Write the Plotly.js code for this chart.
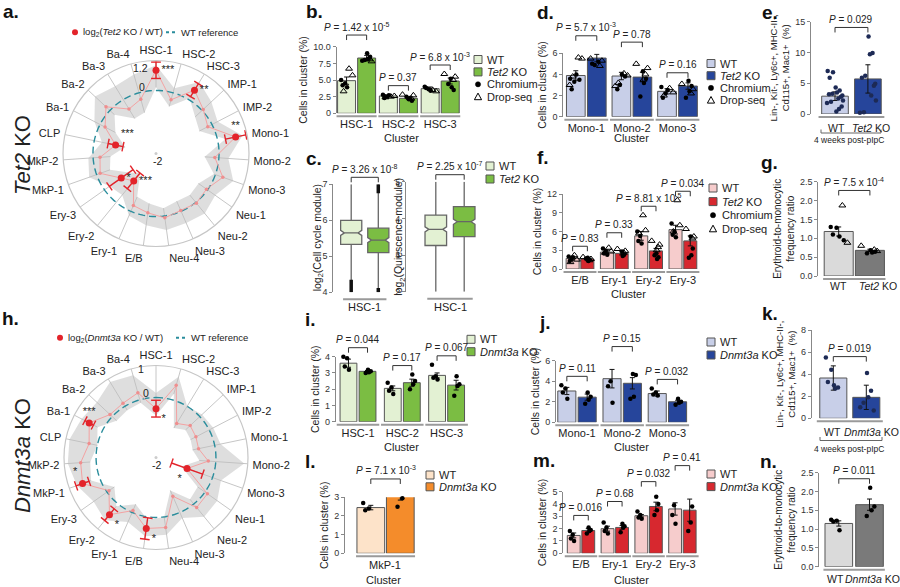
<!DOCTYPE html>
<html><head><meta charset="utf-8">
<script src="https://cdn.plot.ly/plotly-3.0.1.min.js"></script>
<style>html,body{margin:0;padding:0;background:#fff}#chart{width:900px;height:587px}</style>
</head><body><div id="chart"></div>
<script>
// ================= DATA =================
const polarCats=['HSC-1','HSC-2','HSC-3','IMP-1','IMP-2','Mono-1','Mono-2','Mono-3','Neu-1','Neu-2','Neu-3','Neu-4','E/B','Ery-1','Ery-2','Ery-3','MkP-1','MkP-2','CLP','Ba-1','Ba-2','Ba-3','Ba-4'];
const a_val=[0.64,-0.23,0.35,0.05,-0.15,0.58,-0.13,0.25,-0.04,0.03,-0.03,0.06,-0.1,-0.2,-0.88,-0.65,-0.12,-0.22,-0.69,-0.18,0.17,-0.35,-0.21];
const a_hi =[0.8,0.15,0.65,0.4,0.2,0.8,0.3,0.6,0.3,0.45,0.4,0.45,0.3,0.15,-0.3,-0.2,0.25,0.15,-0.25,0.2,0.65,0.5,0.6];
const a_lo =[0.1,-0.45,0.05,-0.3,-0.45,0.25,-0.45,-0.05,-0.35,-0.3,-0.35,-0.25,-0.4,-0.5,-1.2,-0.95,-0.45,-0.55,-1.0,-0.55,-0.2,-0.7,-0.65];
const a_err=[0.26,null,0.24,null,null,0.33,null,null,null,null,null,null,null,null,0.32,0.46,null,null,0.24,null,null,null,null];
const a_sig=['***','','**','','','**','','','','','','','','','***','*','','','***','','','',''];
const h_val=[-0.37,0.5,-0.67,-0.44,-0.5,-0.55,-0.25,-0.9,0.1,0.15,-0.59,0.36,0.39,-0.07,0.46,-0.08,0.6,0.52,0.28,0.51,0.1,0.12,0.24];
const h_hi =[0.15,0.8,0.0,0.1,0.15,0.2,0.95,0.3,0.5,0.55,0.2,0.6,0.65,0.35,0.7,0.55,0.8,0.95,0.95,0.8,0.7,0.95,0.85];
const h_lo =[-0.6,0.2,-0.85,-0.65,-0.7,-0.75,-0.55,-1.1,-0.3,-0.2,-0.8,0.0,0.1,-0.3,0.1,-0.3,0.3,0.2,0.0,0.2,-0.2,-0.15,-0.1];
const h_err=[0.28,null,null,null,null,null,null,0.55,null,null,null,null,0.36,null,0.25,null,0.23,null,null,0.16,null,null,null];
const h_sig=['*','','','','','','','*','','','','','*','','*','','*','','','***','','',''];

const b_cats=['HSC-1','HSC-2','HSC-3'];
const b_wt=[4.9,2.6,3.7], b_ko=[8.3,2.25,4.85];
const b_wtErr=[0.55,0.15,0.25], b_koErr=[0.4,0.2,0.45];
const b_wtChrom=[[5.0,4.5,4.2,3.9],[2.8,2.5,2.3,2.7],[4.0,3.6,3.8,3.4]];
const b_wtDrop=[[6.7,5.7,3.3],[2.5,2.6,2.4],[3.5,3.3]];
const b_koChrom=[[9.0,8.5,8.2,8.0,7.9],[2.1,1.9,2.3,2.5],[5.2,3.5,3.9,4.4]];
const b_koDrop=[[10.4,7.8,8.1],[2.8,2.7,2.2],[5.9,5.5,5.0]];
const b_p=['1.42 x 10<sup>-5</sup>','0.37','6.8 x 10<sup>-3</sup>'];

const c1_q1=[5.33,5.1], c1_med=[5.65,5.45], c1_q3=[6.0,5.78], c1_lo=[4.0,4.0], c1_hi=[7.0,7.0];
const c1_outWT=[4.0,4.35], c1_outKOtop=[6.75,7.0], c1_outKObot=[4.0,4.12];
const c2_q1=[3.26,3.5], c2_med=[3.7,3.91], c2_q3=[4.09,4.32], c2_lo=[2.0,2.0], c2_hi=[5.0,5.0];
const c_p=['3.26 x 10<sup>-8</sup>','2.25 x 10<sup>-7</sup>'];

const d_cats=['Mono-1','Mono-2','Mono-3'];
const d_wt=[3.9,3.85,2.4], d_ko=[5.55,3.75,2.9];
const d_wtErr=[0.45,0.35,0.25], d_koErr=[0.35,0.45,0.3];
const d_wtChrom=[[3.6,3.3,2.6,4.0,3.5],[6.3,3.0,2.6,4.0,3.8],[2.8,2.2,1.8,2.5]];
const d_wtDrop=[[5.6,5.5,3.8,3.0],[4.1,3.9,3.2,2.9],[2.7,2.3,2.0]];
const d_koChrom=[[6.9,6.6,5.2,4.9,5.0],[4.3,3.6,3.2,1.9],[3.4,2.9,2.4,1.8]];
const d_koDrop=[[5.5,5.3,4.8],[5.0,4.6,4.0,3.5],[3.1,2.6,2.2]];
const d_p=['5.7 x 10<sup>-3</sup>','0.78','0.16'];

const e_vals=[2.9,5.7], e_err=[0.7,2.3];
const e_wtPts=[7.0,6.8,5.9,4.3,3.8,3.5,3.3,3.2,3.0,2.8,2.5,2.2,2.0,1.8,1.2,0.8,0.4];
const e_koPts=[12.6,9.9,9.7,6.2,5.9,4.9,4.6,3.0,2.2,0.3,0.2];
const e_p='0.029';

const f_cats=['E/B','Ery-1','Ery-2','Ery-3'];
const f_wt=[1.7,2.7,5.3,6.3], f_ko=[1.6,2.5,2.9,4.5];
const f_wtErr=[0.25,0.3,0.7,0.7], f_koErr=[0.2,0.25,0.4,0.8];
const f_wtChrom=[[2.0,1.6,1.3,1.9],[3.3,2.9,2.5,2.3],[6.0,5.3,4.5,4.1],[7.3,6.0,5.5,5.1]];
const f_wtDrop=[[2.2,1.5,1.1],[3.4,2.8,2.6],[8.6,6.2,5.7],[11.0,7.0,6.0]];
const f_koChrom=[[1.8,1.5,1.3,1.7],[2.8,2.3,2.1],[2.5,1.9,1.6,2.2],[5.2,3.3,2.2,1.8]];
const f_koDrop=[[1.9,1.6,1.4],[3.2,2.9,2.6],[4.5,3.9,3.5,3.0],[6.4,5.2,4.9]];
const f_p=['0.83','0.33','8.81 x 10<sup>-5</sup>','0.034'];

const g_vals=[1.18,0.68], g_err=[0.12,0.03];
const g_wtChrom=[1.3,1.28,1.1,1.05,0.95], g_wtDrop=[1.87,0.88];
const g_koChrom=[0.68,0.64,0.62,0.6], g_koDrop=[0.8,0.66,0.7];
const g_p='7.5 x 10<sup>-4</sup>';

const i_cats=['HSC-1','HSC-2','HSC-3'];
const i_wt=[3.6,2.05,2.85], i_ko=[3.1,2.4,2.25];
const i_wtErr=[0.25,0.15,0.15], i_koErr=[0.05,0.22,0.3];
const i_wtPts=[[4.0,3.9,3.4,3.2],[2.4,2.1,1.9,1.7],[3.5,2.8,2.7,2.6]];
const i_koPts=[[3.2,3.1,3.05,3.0],[2.9,2.5,2.3,2.0],[2.8,2.3,2.2,1.6]];
const i_p=['0.044','0.17','0.067'];

const j_cats=['Mono-1','Mono-2','Mono-3'];
const j_wt=[3.05,4.25,2.8], j_ko=[2.45,3.8,2.0];
const j_wtErr=[0.35,0.9,0.25], j_koErr=[0.3,0.55,0.15];
const j_wtPts=[[3.6,3.3,2.9,2.3],[6.5,4.0,3.5,1.9],[3.3,2.9,2.7,2.6]];
const j_koPts=[[2.9,2.5,2.2,1.8],[4.7,4.6,2.5,2.3],[2.3,2.0,1.9,1.7]];
const j_p=['0.11','0.15','0.032'];

const k_vals=[3.65,1.9], k_err=[1.1,1.1];
const k_wtPts=[5.5,4.4,3.3,3.0,2.8,2.7], k_koPts=[4.1,2.5,1.9,1.4,1.0,0.7];
const k_p='0.019';

const l_vals=[2.45,3.1], l_err=[0.12,0.25];
const l_wtPts=[2.7,2.4,2.3], l_koPts=[3.5,3.3,2.95,2.5];
const l_p='7.1 x 10<sup>-3</sup>';

const m_cats=['E/B','Ery-1','Ery-2','Ery-3'];
const m_wt=[1.45,2.0,3.05,3.6], m_ko=[1.85,2.1,3.8,3.5];
const m_wtErr=[0.2,0.2,0.1,0.5], m_koErr=[0.15,0.15,0.35,0.9];
const m_wtPts=[[1.8,1.5,1.2,1.0],[2.5,2.1,1.8,1.6],[3.4,3.1,2.9,2.8],[5.2,3.9,3.1,2.4]];
const m_koPts=[[2.1,1.9,1.8,1.6],[2.4,2.2,2.1,1.7],[4.6,4.0,3.5,3.1],[5.9,3.8,2.5,1.8]];
const m_p=['0.016','0.68','0.032','0.41'];

const n_vals=[1.15,1.65], n_err=[0.07,0.15];
const n_wtPts=[1.25,1.22,1.2,0.97], n_koPts=[2.1,1.6,1.5,1.35];
const n_p='0.011';

// ================= BUILD =================
const FONT='Arial, "Liberation Sans", Helvetica, sans-serif';
const W=900,H=587;
const PX=x=>x/W, PY=y=>1-y/H;
const traces=[],shapes=[],annotations=[];
const layout={width:W,height:H,margin:{l:0,r:0,t:0,b:0,autoexpand:false},paper_bgcolor:'#fff',plot_bgcolor:'rgba(0,0,0,0)',
  showlegend:false,font:{family:FONT,color:'#222'},barmode:'overlay',shapes,annotations};
let axCount=0;
function nextAxes(){axCount++;const s=axCount===1?'':String(axCount);return {xk:'xaxis'+s,yk:'yaxis'+s,x:'x'+s,y:'y'+s};}
function txt(x,y,text,o={}){annotations.push(Object.assign({xref:'paper',yref:'paper',x:PX(x),y:PY(y),text,showarrow:false,
  font:{size:o.size||10.5,color:o.color||'#222',family:FONT},xanchor:o.xa||'center',yanchor:o.ya||'middle'},o.extra||{}));}
const JIT=[-0.55,0.45,-0.15,0.25,-0.4,0.6,0.05,-0.3,0.35,-0.6,0.15,0.5,-0.2,0.3,-0.45,0.1,0.55];
const PSIZE=10;
function bracketPx(x1,x2,yb,label){
  const yt=yb-5;
  shapes.push({type:'path',xref:'paper',yref:'paper',path:`M ${PX(x1)} ${PY(yb)} L ${PX(x1)} ${PY(yt)} L ${PX(x2)} ${PY(yt)} L ${PX(x2)} ${PY(yb)}`,line:{color:'#333',width:1}});
  txt((x1+x2)/2,yt-0.5,'<i>P</i> = '+label,{ya:'bottom',size:PSIZE});
}
function legendBox(x,y,items,dy){items.forEach((it,k)=>{const yy=y+k*dy;
  if(it.kind==='sq'){shapes.push({type:'rect',xref:'paper',yref:'paper',x0:PX(x-4),x1:PX(x+4),y0:PY(yy+4),y1:PY(yy-4),fillcolor:it.fill,line:{color:'#555',width:1}});}
  else if(it.kind==='dot'){shapes.push({type:'circle',xref:'paper',yref:'paper',x0:PX(x-2.6),x1:PX(x+2.6),y0:PY(yy+2.6),y1:PY(yy-2.6),fillcolor:'#000',line:{color:'#000',width:0.5}});}
  else {shapes.push({type:'path',xref:'paper',yref:'paper',path:`M ${PX(x-3.6)} ${PY(yy+3)} L ${PX(x+3.6)} ${PY(yy+3)} L ${PX(x)} ${PY(yy-3.6)} Z`,line:{color:'#000',width:1}});}
  txt(x+7,yy,it.text,{xa:'left',size:11});});}

function yAxisCfg(c,ax){return {domain:[PY(c.y0),PY(c.yTop)],range:c.range,anchor:ax.x,showline:true,linecolor:'#888',linewidth:1,
  ticks:'outside',ticklen:3,tickcolor:'#888',tickmode:'array',tickvals:c.ticks,ticktext:c.tickText||c.ticks.map(String),
  tickfont:{size:9,color:'#333'},showgrid:false,zeroline:false,fixedrange:true,
  title:{text:c.ytitle||'',font:{size:c.ytSize||10.5,color:'#222'},standoff:c.yStand??3}};}

function ptsTrace(ax,xs,ys,kind,color){
  return {type:'scatter',mode:'markers',xaxis:ax.x,yaxis:ax.y,x:xs,y:ys,cliponaxis:false,hoverinfo:'skip',
    marker:kind==='tri'?{symbol:'triangle-up-open',size:6,color:'#000',line:{width:1,color:'#000'}}:{symbol:'circle',size:4.5,color:color||'#000'}};}
const padOf=(p,i)=>Array.isArray(p)?p[i]:(p??4);

function groupedPanel(c){
  const ax=nextAxes(); const n=c.cats.length;
  const r0=-(c.firstCenter-c.axisX)/c.spacing, r1=n-1+(c.rightPad??0.5);
  const xR=c.axisX+(r1-r0)*c.spacing;
  const upp=(c.range[1]-c.range[0])/(c.y0-c.yTop);
  const xp=xd=>c.axisX+(xd-r0)*c.spacing, yp=v=>c.y0-(v-c.range[0])/upp;
  layout[ax.xk]={domain:[PX(c.axisX),PX(xR)],range:[r0,r1],anchor:ax.y,showline:false,zeroline:false,showgrid:false,
    tickmode:'array',tickvals:c.cats.map((_,i)=>i),ticktext:c.cats,ticks:'',tickangle:0,tickfont:{size:11,color:'#222'},ticklabelstandoff:c.xStand??3,fixedrange:true};
  layout[ax.yk]=yAxisCfg(c,ax);
  const bw=c.barW, gap=c.gap??0.05;
  const idx=c.cats.map((_,i)=>i);
  const wtX=idx.map(i=>i-bw/2-gap/2), koX=idx.map(i=>i+bw/2+gap/2);
  traces.push({type:'bar',xaxis:ax.x,yaxis:ax.y,x:idx,y:c.wt,offset:-(bw+gap/2),width:bw,cliponaxis:false,hoverinfo:'skip',
    marker:{color:c.colWT,line:{color:'#555',width:1}},error_y:{type:'data',array:c.wtErr,color:'#111',thickness:1,width:2.5}});
  traces.push({type:'bar',xaxis:ax.x,yaxis:ax.y,x:idx,y:c.ko,offset:gap/2,width:bw,cliponaxis:false,hoverinfo:'skip',
    marker:{color:c.colKO,line:{color:'#555',width:1}},error_y:{type:'data',array:c.koErr,color:'#111',thickness:1,width:2.5}});
  const sets=[[wtX,c.wtChrom,'dot'],[wtX,c.wtDrop,'tri'],[koX,c.koChrom,'dot'],[koX,c.koDrop,'tri']];
  sets.forEach(([cx,arr,kind],si)=>{ if(!arr) return; const xs=[],ys=[];
    arr.forEach((g,i)=>g.forEach((v,k)=>{xs.push(cx[i]+JIT[(k*2+si*3)%JIT.length]*bw*0.55);ys.push(v);}));
    traces.push(ptsTrace(ax,xs,ys,kind,c.ptColor));});
  c.pvals.forEach((p,i)=>{
    const all=[c.wt[i]+c.wtErr[i],c.ko[i]+c.koErr[i]];
    sets.forEach(([cx,arr])=>{if(arr) all.push(...arr[i]);});
    bracketPx(xp(wtX[i]),xp(koX[i]),yp(Math.max(...all))-padOf(c.bPad,i),p);
  });
  idx.forEach(i=>shapes.push({type:'line',xref:'paper',yref:'paper',x0:PX(xp(i-0.48)),x1:PX(xp(i+0.48)),y0:PY(c.y0+3),y1:PY(c.y0+3),line:{color:'#9a9a9a',width:2}}));
  return ax;
}

function pairPanel(c){
  const ax=nextAxes();
  const r0=-(c.c0-c.axisX)/c.spacing, r1=1+(c.rightPad??0.55);
  const xR=c.axisX+(r1-r0)*c.spacing;
  const upp=(c.range[1]-c.range[0])/(c.y0-c.yTop);
  const xp=xd=>c.axisX+(xd-r0)*c.spacing, yp=v=>c.y0-(v-c.range[0])/upp;
  layout[ax.xk]={domain:[PX(c.axisX),PX(xR)],range:[r0,r1],anchor:ax.y,showline:false,zeroline:false,showgrid:false,
    showticklabels:false,ticks:'',fixedrange:true};
  layout[ax.yk]=yAxisCfg(c,ax);
  traces.push({type:'bar',xaxis:ax.x,yaxis:ax.y,x:[0,1],y:c.vals,width:c.barW,cliponaxis:false,hoverinfo:'skip',
    marker:{color:c.colors,line:{color:'#555',width:1}},error_y:{type:'data',array:c.err,color:'#111',thickness:1,width:2.5}});
  const all=[c.vals[0]+c.err[0],c.vals[1]+c.err[1]];
  const sets=[[0,c.wtChrom,'dot'],[0,c.wtDrop,'tri'],[1,c.koChrom,'dot'],[1,c.koDrop,'tri']];
  sets.forEach(([cx,arr,kind],si)=>{ if(!arr) return; all.push(...arr);
    traces.push(ptsTrace(ax,arr.map((v,k)=>cx+JIT[(k*2+si*3)%JIT.length]*c.barW*0.5),arr,kind,c.ptColor));});
  bracketPx(xp(0),xp(1),yp(Math.max(...all))-(c.bPad??4),c.p);
  shapes.push({type:'line',xref:'paper',yref:'paper',x0:PX(xp(-0.5)),x1:PX(xp(1.5)),y0:PY(c.y0+3),y1:PY(c.y0+3),line:{color:'#9a9a9a',width:2}});
  if(c.labels){ txt(c.labelX[0],c.labelY,c.labels[0],{size:10.5}); txt(c.labelX[1],c.labelY,c.labels[1],{size:10.5,xa:'left'}); }
  return ax;
}

function boxPanel(c){
  const ax=nextAxes();
  const r0=-(c.c0-c.axisX)/c.spacing, r1=1+(c.rightPad??0.6);
  const xR=c.axisX+(r1-r0)*c.spacing;
  const upp=(c.range[1]-c.range[0])/(c.y0-c.yTop);
  const xp=xd=>c.axisX+(xd-r0)*c.spacing, yp=v=>c.y0-(v-c.range[0])/upp;
  layout[ax.xk]={domain:[PX(c.axisX),PX(xR)],range:[r0,r1],anchor:ax.y,showline:false,zeroline:false,showgrid:false,
    showticklabels:false,ticks:'',fixedrange:true};
  layout[ax.yk]=yAxisCfg(c,ax);
  layout[ax.yk].title={text:''}; txt(c.titleX,(c.y0+c.yTop)/2,c.ytitle,{size:10.5,extra:{textangle:-90}});
  [0,1].forEach(k=>traces.push({type:'box',xaxis:ax.x,yaxis:ax.y,x:[k],q1:[c.q1[k]],median:[c.med[k]],q3:[c.q3[k]],
    lowerfence:[c.lo[k]],upperfence:[c.hi[k]],notched:true,notchspan:[0.07],notchwidth:0.18,width:c.boxW,whiskerwidth:0,
    fillcolor:c.colors[k],line:{color:'#666',width:1.3},boxpoints:false,hoverinfo:'skip'}));
  (c.outliers||[]).forEach(([k,seg])=>traces.push({type:'scatter',mode:'lines',xaxis:ax.x,yaxis:ax.y,x:[k,k],y:seg,
    line:{color:'#111',width:3.5},cliponaxis:false,hoverinfo:'skip'}));
  bracketPx(xp(0),xp(1),yp(Math.max(...c.hi))-2,c.p);
  shapes.push({type:'line',xref:'paper',yref:'paper',x0:PX(xp(-0.3)),x1:PX(xp(1.3)),y0:PY(c.y0+7),y1:PY(c.y0+7),line:{color:'#9a9a9a',width:2}});
  txt(xp(0.5),c.y0+15,'HSC-1',{size:11});
}

let polarCount=0;
function polarPanel(c){
  polarCount++; const key=polarCount===1?'polar':'polar'+polarCount; const sub=key;
  const N=polarCats.length, th=polarCats.map((_,i)=>i*360/N);
  layout[key]={domain:{x:[PX(c.cx-c.R),PX(c.cx+c.R)],y:[PY(c.cy+c.R),PY(c.cy-c.R)]},bgcolor:'rgba(0,0,0,0)',
    radialaxis:{visible:false,range:c.range},
    angularaxis:{type:'linear',thetaunit:'degrees',direction:'clockwise',rotation:90,tickmode:'array',tickvals:th,ticktext:polarCats,
      showgrid:false,showline:true,linecolor:'#c6c6c6',linewidth:1.2,ticks:'outside',ticklen:2,tickcolor:'rgba(0,0,0,0)',
      tickfont:{size:11,color:'#222',family:FONT}}};
  const rmax=c.range[1];
  const sr=[],st=[];
  th.forEach((t,i)=>{sr.push(Math.min(c.lo[i],c.val[i]),rmax,null);st.push(t,t,t);});
  traces.push({type:'scatterpolar',subplot:sub,r:sr,theta:st,mode:'lines',line:{color:'#c6c6c6',width:1},hoverinfo:'skip',connectgaps:false});
  const br=[...c.hi,c.hi[0],c.lo[0],...c.lo.slice().reverse()];
  const bt=[...th,360,360,...th.slice().reverse()];
  traces.push({type:'scatterpolar',subplot:sub,r:br,theta:bt,mode:'lines',fill:'toself',fillcolor:'rgba(190,190,190,0.5)',line:{width:0,color:'rgba(0,0,0,0)'},hoverinfo:'skip'});
  const cr=[],ct=[]; for(let t=0;t<=360;t+=3){cr.push(0);ct.push(t);}
  traces.push({type:'scatterpolar',subplot:sub,r:cr,theta:ct,mode:'lines',line:{color:'#2a8d9c',width:1.4,dash:'7px,4px'},hoverinfo:'skip'});
  traces.push({type:'scatterpolar',subplot:sub,r:[...c.val,c.val[0]],theta:[...th,360],mode:'lines+markers',
    line:{color:'#f3a2a2',width:1},marker:{size:3.5,color:'#ef8e8e'},hoverinfo:'skip'});
  const er=[],et=[],capR=[],capT=[],capA=[],pr=[],pt=[],sx=[],sp=[];
  c.err.forEach((e,i)=>{ if(e==null) return;
    er.push(c.val[i]-e,c.val[i]+e,null); et.push(th[i],th[i],th[i]);
    capR.push(c.val[i]-e,c.val[i]+e); capT.push(th[i],th[i]); capA.push(th[i],th[i]);
    pr.push(c.val[i]); pt.push(th[i]); sx.push(c.sig[i]); sp.push(c.starPos[i]||'middle right');});
  traces.push({type:'scatterpolar',subplot:sub,r:er,theta:et,mode:'lines',line:{color:'#e3232a',width:1.4},hoverinfo:'skip',connectgaps:false});
  traces.push({type:'scatterpolar',subplot:sub,r:capR,theta:capT,mode:'markers',marker:{symbol:'line-ew',size:7,angle:capA,line:{color:'#e3232a',width:1.4}},hoverinfo:'skip'});
  traces.push({type:'scatterpolar',subplot:sub,r:pr,theta:pt,mode:'markers+text',text:sx,textposition:sp,textfont:{size:11,color:'#222'},
    marker:{size:7,color:'#e3232a'},hoverinfo:'skip'});
  traces.push({type:'scatterpolar',subplot:sub,r:[c.range[0]],theta:[0],mode:'markers',marker:{size:3,color:'#cccccc'},hoverinfo:'skip'});
}

polarPanel({cx:156,cy:153.5,R:93,range:[-2,0.95],val:a_val,hi:a_hi,lo:a_lo,err:a_err,sig:a_sig,
  starPos:{0:'middle right',2:'middle right',5:'top center',14:'middle right',15:'middle right',18:'top right'}});
polarPanel({cx:156,cy:457.5,R:92,range:[-2,1.07],val:h_val,hi:h_hi,lo:h_lo,err:h_err,sig:h_sig,
  starPos:{0:'bottom right',7:'bottom left',12:'bottom right',14:'bottom right',16:'top left',19:'top center'}});
txt(140,68,'1.2'); txt(142,87,'0'); txt(157,161,'-2');
txt(141,369,'1'); txt(146,393,'0'); txt(156,465,'-2');
shapes.push({type:'circle',xref:'paper',yref:'paper',x0:PX(72),x1:PX(78),y0:PY(35.3),y1:PY(29.3),fillcolor:'#e3232a',line:{width:0}});
txt(81,32.3,'log<sub>2</sub>(<i>Tet2</i> KO / WT)',{xa:'left',size:9.5});
shapes.push({type:'line',xref:'paper',yref:'paper',x0:PX(166),x1:PX(175),y0:PY(32.3),y1:PY(32.3),line:{color:'#2a8d9c',width:2,dash:'dot'}});
txt(179,32.3,'WT reference',{xa:'left',size:9.5});
shapes.push({type:'circle',xref:'paper',yref:'paper',x0:PX(57),x1:PX(63),y0:PY(340.7),y1:PY(334.7),fillcolor:'#e3232a',line:{width:0}});
txt(66,337.7,'log<sub>2</sub>(<i>Dnmt3a</i> KO / WT)',{xa:'left',size:9.5});
shapes.push({type:'line',xref:'paper',yref:'paper',x0:PX(176),x1:PX(185),y0:PY(337.7),y1:PY(337.7),line:{color:'#2a8d9c',width:2,dash:'dot'}});
txt(189,337.7,'WT reference',{xa:'left',size:9.5});
txt(22,155,'<i>Tet2</i> KO',{size:22,extra:{textangle:-90}});
txt(22,456,'<i>Dnmt3a</i> KO',{size:22,extra:{textangle:-90}});

const GW='#e3f1d3', GK='#7bbd43', BW='#c8cfe8', BK='#26459b', RW='#f6cccc', RK='#d7282f', OW='#fde3c9', OK='#f48c2b', YW='#dadada', YK='#7a7a7a';
const CELLS='Cells in cluster (%)';
const LINT='Lin-, Kit-, Ly6c+, MHC-II-,<br>Cd115+, Mac1+  (%)';
const RATIO='Erythroid-to-monocytic<br>frequency ratio';

groupedPanel({cats:b_cats,wt:b_wt,ko:b_ko,wtErr:b_wtErr,koErr:b_koErr,wtChrom:b_wtChrom,wtDrop:b_wtDrop,koChrom:b_koChrom,koDrop:b_koDrop,
  pvals:b_p,axisX:336.7,firstCenter:356.6,spacing:41.8,y0:113.3,yTop:46.7,range:[0,10],ticks:[0,2.5,5,7.5,10],tickText:['0','2.5','5.0','7.5','10.0'],
  barW:0.43,colWT:GW,colKO:GK,ytitle:CELLS,bPad:4});
txt(401,138,'Cluster',{size:11});
legendBox(478,59.5,[{kind:'sq',fill:GW,text:'WT'},{kind:'sq',fill:GK,text:'<i>Tet2</i> KO'},{kind:'dot',text:'Chromium'},{kind:'tri',text:'Drop-seq'}],12.4);

boxPanel({axisX:333.3,c0:351.2,spacing:27.1,y0:292.3,yTop:184.3,range:[4,7],ticks:[4,5,6,7],q1:c1_q1,med:c1_med,q3:c1_q3,lo:c1_lo,hi:c1_hi,
  outliers:[[0,c1_outWT],[1,c1_outKOtop],[1,c1_outKObot]],boxW:0.78,colors:[GW,GK],p:c_p[0],ytitle:'log<sub>2</sub>(Cell cycle module)',titleX:318});
boxPanel({axisX:406,c0:435.8,spacing:28.4,y0:291.7,yTop:181.7,range:[2,5],ticks:[2,3,4,5],q1:c2_q1,med:c2_med,q3:c2_q3,lo:c2_lo,hi:c2_hi,
  boxW:0.76,colors:[GW,GK],p:c_p[1],ytitle:'log<sub>2</sub>(Quiescence module)',rightPad:0.5,titleX:399});
legendBox(490,166,[{kind:'sq',fill:GW,text:'WT'},{kind:'sq',fill:GK,text:'<i>Tet2</i> KO'}],13);

groupedPanel({cats:d_cats,wt:d_wt,ko:d_ko,wtErr:d_wtErr,koErr:d_koErr,wtChrom:d_wtChrom,wtDrop:d_wtDrop,koChrom:d_koChrom,koDrop:d_koDrop,
  pvals:d_p,axisX:563.3,firstCenter:586.3,spacing:45.6,y0:116.7,yTop:53.3,range:[0,6],ticks:[0,2,4,6],
  barW:0.41,colWT:BW,colKO:BK,ytitle:CELLS,bPad:3});
txt(631,138,'Cluster',{size:11});
legendBox(711,63.5,[{kind:'sq',fill:BW,text:'WT'},{kind:'sq',fill:BK,text:'<i>Tet2</i> KO'},{kind:'dot',text:'Chromium'},{kind:'tri',text:'Drop-seq'}],12.2);

pairPanel({axisX:811,c0:835,spacing:32.9,y0:114,yTop:21.7,range:[0,15],ticks:[0,5,10,15],vals:e_vals,err:e_err,colors:[BW,BK],
  wtChrom:e_wtPts,koChrom:e_koPts,ptColor:'#1d2a55',p:e_p,barW:0.81,ytitle:LINT,ytSize:9.5,bPad:4,
  labels:['WT','<i>Tet2</i> KO'],labelX:[836.5,850],labelY:127.5});
shapes.push({type:'path',xref:'paper',yref:'paper',path:`M ${PX(821)} ${PY(129.5)} L ${PX(821)} ${PY(133)} L ${PX(881)} ${PY(133)} L ${PX(881)} ${PY(129.5)}`,line:{color:'#666',width:1}});
txt(849,140,'4 weeks post-pIpC',{size:8.5});

groupedPanel({cats:f_cats,wt:f_wt,ko:f_ko,wtErr:f_wtErr,koErr:f_koErr,wtChrom:f_wtChrom,wtDrop:f_wtDrop,koChrom:f_koChrom,koDrop:f_koDrop,
  pvals:f_p,axisX:562.7,firstCenter:580,spacing:34.3,y0:269,yTop:194,range:[0,12],ticks:[0,3,6,9,12],
  barW:0.38,colWT:RW,colKO:RK,ytitle:CELLS,bPad:[4,10,4,4]});
txt(628,294,'Cluster',{size:11});
legendBox(713,188,[{kind:'sq',fill:RW,text:'WT'},{kind:'sq',fill:RK,text:'<i>Tet2</i> KO'},{kind:'dot',text:'Chromium'},{kind:'tri',text:'Drop-seq'}],13.6);

pairPanel({axisX:818.3,c0:838.7,spacing:31.2,y0:276,yTop:181.7,range:[0,2.5],ticks:[0,0.5,1,1.5,2,2.5],tickText:['0.0','0.5','1.0','1.5','2.0','2.5'],
  vals:g_vals,err:g_err,colors:[YW,YK],wtChrom:g_wtChrom,wtDrop:g_wtDrop,koChrom:g_koChrom,koDrop:g_koDrop,p:g_p,barW:0.93,
  ytitle:RATIO,ytSize:10,bPad:10,labels:['WT','<i>Tet2</i> KO'],labelX:[838,857],labelY:286});

groupedPanel({cats:i_cats,wt:i_wt,ko:i_ko,wtErr:i_wtErr,koErr:i_koErr,wtChrom:i_wtPts,koChrom:i_koPts,
  pvals:i_p,axisX:335.7,firstCenter:358,spacing:44.3,y0:421.7,yTop:356.7,range:[0,4],ticks:[0,1,2,3,4],
  barW:0.38,colWT:GW,colKO:GK,ytitle:CELLS,bPad:4});
txt(401,446.7,'Cluster',{size:11});
legendBox(471,339.3,[{kind:'sq',fill:GW,text:'WT'},{kind:'sq',fill:GK,text:'<i>Dnmt3a</i> KO'}],12.4);

groupedPanel({cats:j_cats,wt:j_wt,ko:j_ko,wtErr:j_wtErr,koErr:j_koErr,wtChrom:j_wtPts,koChrom:j_koPts,
  pvals:j_p,axisX:556,firstCenter:577,spacing:45.2,y0:422.3,yTop:360.7,range:[0,6],ticks:[0,2,4,6],
  barW:0.4,colWT:BW,colKO:BK,ytitle:CELLS,bPad:4});
txt(631.7,446.7,'Cluster',{size:11});
legendBox(711,342,[{kind:'sq',fill:BW,text:'WT'},{kind:'sq',fill:BK,text:'<i>Dnmt3a</i> KO'}],13);

pairPanel({axisX:811.7,c0:833.3,spacing:33,y0:418.3,yTop:330,range:[0,8],ticks:[0,2,4,6,8],vals:k_vals,err:k_err,colors:[BW,BK],
  wtChrom:k_wtPts,koChrom:k_koPts,ptColor:'#1d2a55',p:k_p,barW:0.82,ytitle:LINT,ytSize:9.5,bPad:-4,
  labels:['WT','<i>Dnmt3a</i> KO'],labelX:[832.5,842],labelY:432});
shapes.push({type:'path',xref:'paper',yref:'paper',path:`M ${PX(820)} ${PY(437)} L ${PX(820)} ${PY(440.5)} L ${PX(882)} ${PY(440.5)} L ${PX(882)} ${PY(437)}`,line:{color:'#666',width:1}});
txt(849,448.5,'4 weeks post-pIpC',{size:8.5});

pairPanel({axisX:345,c0:370.8,spacing:29.5,y0:553.3,yTop:497.3,range:[0,3],ticks:[0,1,2,3],vals:l_vals,err:l_err,colors:[OW,OK],
  wtChrom:l_wtPts,koChrom:l_koPts,p:l_p,barW:0.94,ytitle:CELLS,bPad:4,rightPad:0.6});
txt(385,564.5,'MkP-1',{size:11}); txt(383.3,579.5,'Cluster',{size:11});
legendBox(430,475,[{kind:'sq',fill:OW,text:'WT'},{kind:'sq',fill:OK,text:'<i>Dnmt3a</i> KO'}],11.8);

groupedPanel({cats:m_cats,wt:m_wt,ko:m_ko,wtErr:m_wtErr,koErr:m_koErr,wtChrom:m_wtPts,koChrom:m_koPts,
  pvals:m_p,axisX:563.3,firstCenter:581,spacing:33.8,y0:553.3,yTop:491.7,range:[0,5],ticks:[0,1,2,3,4,5],
  barW:0.38,colWT:RW,colKO:RK,ytitle:CELLS,bPad:[7,16,10,10]});
txt(631.7,579.5,'Cluster',{size:11});
legendBox(711,474,[{kind:'sq',fill:RW,text:'WT'},{kind:'sq',fill:RK,text:'<i>Dnmt3a</i> KO'}],12.6);

pairPanel({axisX:819.3,c0:838.8,spacing:30.7,y0:566.7,yTop:472.7,range:[0,2.5],ticks:[0,0.5,1,1.5,2,2.5],tickText:['0.0','0.5','1.0','1.5','2.0','2.5'],
  vals:n_vals,err:n_err,colors:[YW,YK],wtChrom:n_wtPts,koChrom:n_koPts,p:n_p,barW:0.9,ytitle:RATIO,ytSize:10,bPad:4,
  labels:['WT','<i>Dnmt3a</i> KO'],labelX:[835,843],labelY:579});

[['a.',1,11],['b.',304,11],['c.',304,158],['d.',535,12],['e.',760,12],['f.',535,157],['g.',759,162],
 ['h.',0,318],['i.',303,319],['j.',537,322],['k.',760,313],['l.',303,461],['m.',531,460],['n.',758,462]]
 .forEach(([t,x,y])=>txt(x,y,'<b>'+t+'</b>',{xa:'left',size:19,color:'#111'}));

Plotly.newPlot('chart',traces,layout,{staticPlot:true,displayModeBar:false});
</script></body></html>
